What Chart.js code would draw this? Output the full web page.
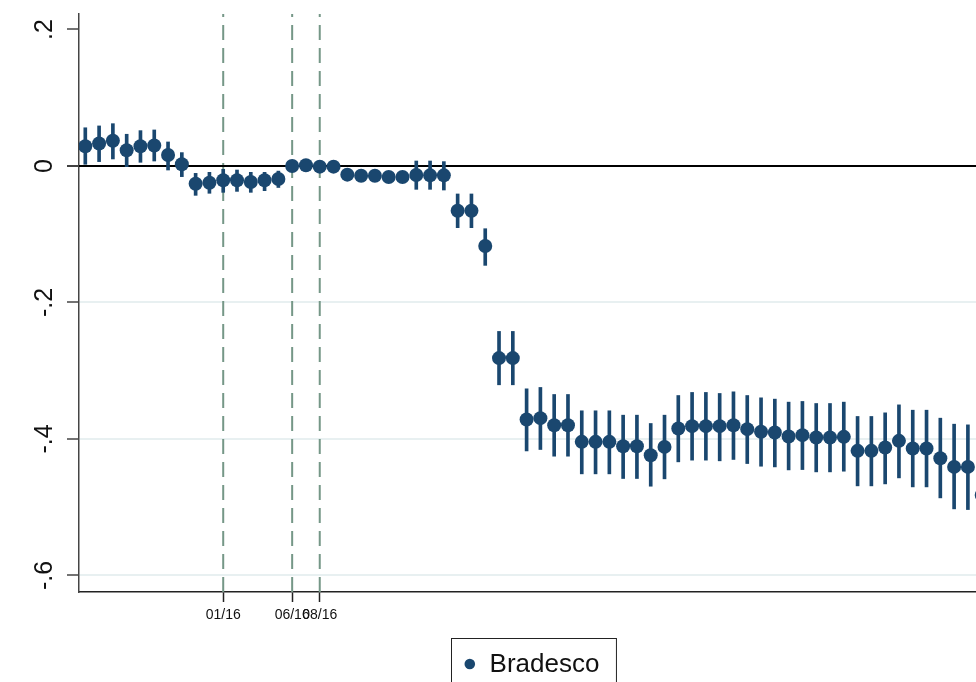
<!DOCTYPE html>
<html>
<head>
<meta charset="utf-8">
<script src="https://cdn.jsdelivr.net/npm/chart.js@4.4.1/dist/chart.umd.min.js"></script>
<style>
  html, body { margin: 0; padding: 0; background: #fff; overflow: hidden; }
  #wrap { width: 1000px; height: 682px; }
</style>
</head>
<body>
<div id="wrap"><canvas id="c" width="1000" height="682"></canvas></div>
<script>
// Monthly coefficient estimates (index 0 = first month in the window) with 95% CI
const months = Array.from({length: 66}, (_, i) => i);
const coef = [0.029, 0.033, 0.037, 0.023, 0.029, 0.030, 0.016, 0.0025, -0.026, -0.0245,
  -0.021, -0.021, -0.0235, -0.021, -0.019, 0.000, 0.001, -0.001, -0.001, -0.0127,
  -0.0142, -0.0142, -0.0161, -0.0161, -0.0132, -0.0137, -0.0137, -0.0655, -0.0655, -0.1173,
  -0.2815, -0.2815, -0.3715, -0.3695, -0.3798, -0.3798, -0.4042, -0.4042, -0.4042, -0.4106,
  -0.4106, -0.4238, -0.4116, -0.3847, -0.3812, -0.3812, -0.3812, -0.3798, -0.3856, -0.3895,
  -0.3905, -0.3964, -0.3944, -0.3978, -0.3978, -0.3969, -0.4174, -0.4174, -0.4125, -0.4027,
  -0.414, -0.414, -0.4282, -0.4409, -0.4409, -0.482];
const ciHigh = [0.056, 0.0587, 0.062, 0.0465, 0.0518, 0.0528, 0.0352, 0.0196, -0.0108, -0.0093,
  -0.0049, -0.0059, -0.0093, -0.0093, -0.0075, 0.004, 0.005, 0.003, 0.003, -0.005,
  -0.0065, -0.0065, -0.0085, -0.0085, 0.0073, 0.0073, 0.0064, -0.041, -0.041, -0.0919,
  -0.2424, -0.2424, -0.3265, -0.3245, -0.3348, -0.3348, -0.3587, -0.3587, -0.3587, -0.3651,
  -0.3651, -0.3773, -0.3651, -0.3363, -0.3318, -0.3318, -0.3333, -0.3309, -0.3363, -0.3397,
  -0.3416, -0.346, -0.345, -0.348, -0.348, -0.346, -0.367, -0.367, -0.3617, -0.35,
  -0.3578, -0.3578, -0.3695, -0.3783, -0.3793, -0.42];
const ciLow = [0.0025, 0.0064, 0.0103, -0.001, 0.0054, 0.0073, -0.0059, -0.0156, -0.043, -0.040,
  -0.0386, -0.0372, -0.0386, -0.0362, -0.0315, -0.004, -0.003, -0.005, -0.005, -0.0205,
  -0.022, -0.022, -0.024, -0.024, -0.0342, -0.0342, -0.0352, -0.0904, -0.0904, -0.1456,
  -0.3206, -0.3206, -0.4175, -0.4154, -0.4252, -0.4252, -0.4511, -0.4511, -0.4511, -0.4579,
  -0.4579, -0.4692, -0.4584, -0.4335, -0.431, -0.431, -0.432, -0.43, -0.436, -0.4399,
  -0.4409, -0.4453, -0.4448, -0.4482, -0.4482, -0.4472, -0.4687, -0.4687, -0.4658, -0.457,
  -0.4702, -0.4702, -0.4863, -0.5024, -0.5034, -0.545];

// Event months marked with dashed vertical lines
const eventIdx = [10, 15, 17];
const eventLabels = ['01/16', '06/16', '08/16'];

// Y axis ticks
const yTicks = [0.2, 0, -0.2, -0.4, -0.6];
const yTickLabels = ['.2', '0', '-.2', '-.4', '-.6'];

const seriesName = 'Bradesco';
const navy = '#1a476f';
const X_MIN = -0.457, X_MAX = 65.457;
const Y_MIN = -0.6242, Y_MAX = 0.2227;

const datasets = [
  {
    type: 'scatter', label: seriesName, order: 1,
    data: months.map((m, i) => ({x: m, y: coef[i]})),
    pointRadius: 7, pointBackgroundColor: navy, pointBorderWidth: 0, showLine: false
  },
  {
    type: 'bar', label: 'ci', order: 2,
    data: months.map((m, i) => ({x: m, y: [ciLow[i], ciHigh[i]]})),
    backgroundColor: navy, borderWidth: 0, barThickness: 3
  },
  {
    type: 'line', label: 'zero', order: 3,
    data: [{x: X_MIN, y: 0}, {x: X_MAX, y: 0}],
    borderColor: '#000', borderWidth: 2, pointRadius: 0
  }
];
eventIdx.forEach((m) => {
  datasets.push({
    type: 'line', label: 'event', order: 4,
    data: [{x: m, y: Y_MIN}, {x: m, y: Y_MAX}],
    borderColor: '#759787', borderWidth: 2, borderDash: [15, 8], pointRadius: 0
  });
});

// Rotated y tick labels
const yLabelPlugin = {
  id: 'yLabels',
  afterDraw(chart) {
    const ctx = chart.ctx, s = chart.scales.y;
    ctx.save();
    ctx.fillStyle = '#111';
    ctx.font = '25px "Liberation Sans", Arial, sans-serif';
    ctx.textAlign = 'center';
    ctx.textBaseline = 'middle';
    yTicks.forEach((v, i) => {
      const y = s.getPixelForValue(v);
      ctx.save();
      ctx.translate(45, y);
      ctx.rotate(-Math.PI / 2);
      ctx.fillText(yTickLabels[i], 0, 0);
      ctx.restore();
    });
    ctx.restore();
  }
};

// Boxed legend below the plot region
const legendPlugin = {
  id: 'boxLegend',
  afterDraw(chart) {
    const ctx = chart.ctx, a = chart.chartArea;
    ctx.save();
    ctx.font = '26px "Liberation Sans", Arial, sans-serif';
    const tw = ctx.measureText(seriesName).width;
    const w = 13 + 10.6 + 14.5 + tw + 17;
    const cx = (a.left + a.right) / 2;
    const x0 = Math.round(cx - w / 2) + 0.5, y0 = 638.5;
    ctx.strokeStyle = '#222';
    ctx.lineWidth = 1;
    ctx.strokeRect(x0, y0, w, 60);
    ctx.fillStyle = navy;
    ctx.beginPath();
    ctx.arc(x0 + 13 + 5.3, 664, 5.3, 0, Math.PI * 2);
    ctx.fill();
    ctx.fillStyle = '#111';
    ctx.textBaseline = 'middle';
    ctx.fillText(seriesName, x0 + 13 + 10.6 + 14.5, 665);
    ctx.restore();
  }
};

new Chart(document.getElementById('c'), {
  type: 'bar',
  data: { datasets },
  options: {
    responsive: false,
    animation: false,
    events: [],
    layout: { padding: { left: 0, top: 14, right: 12, bottom: 0 } },
    plugins: { legend: { display: false }, tooltip: { enabled: false } },
    scales: {
      x: {
        type: 'linear', min: X_MIN, max: X_MAX, offset: false,
        afterBuildTicks(s) { s.ticks = eventIdx.map(v => ({value: v})); },
        afterFit(s) { s.height = 90; },
        grid: { drawOnChartArea: false, drawTicks: true, tickLength: 10, tickColor: '#222', tickWidth: 1.5, offset: false },
        border: { display: true, color: '#222', width: 1.5 },
        ticks: {
          autoSkip: false, minRotation: 0, maxRotation: 0, padding: 5,
          color: '#111', font: { family: '"Liberation Sans", Arial, sans-serif', size: 14 },
          callback(v) { const k = eventIdx.indexOf(v); return k >= 0 ? eventLabels[k] : ''; }
        }
      },
      y: {
        type: 'linear', min: Y_MIN, max: Y_MAX,
        afterBuildTicks(s) { s.ticks = yTicks.map(v => ({value: v})); },
        afterFit(s) { s.width = 79; },
        grid: {
          drawTicks: true, tickLength: 12, tickWidth: 1.5,
          tickColor: (c) => (c.tick && c.tick.value === 0 ? '#000' : '#444'),
          color: (c) => (c.tick && c.tick.value <= -0.19 ? '#e8f0f1' : 'rgba(0,0,0,0)'),
          lineWidth: 2
        },
        border: { display: true, color: '#444', width: 1.5 },
        ticks: { display: false }
      }
    }
  },
  plugins: [yLabelPlugin, legendPlugin]
});
</script>
</body>
</html>
